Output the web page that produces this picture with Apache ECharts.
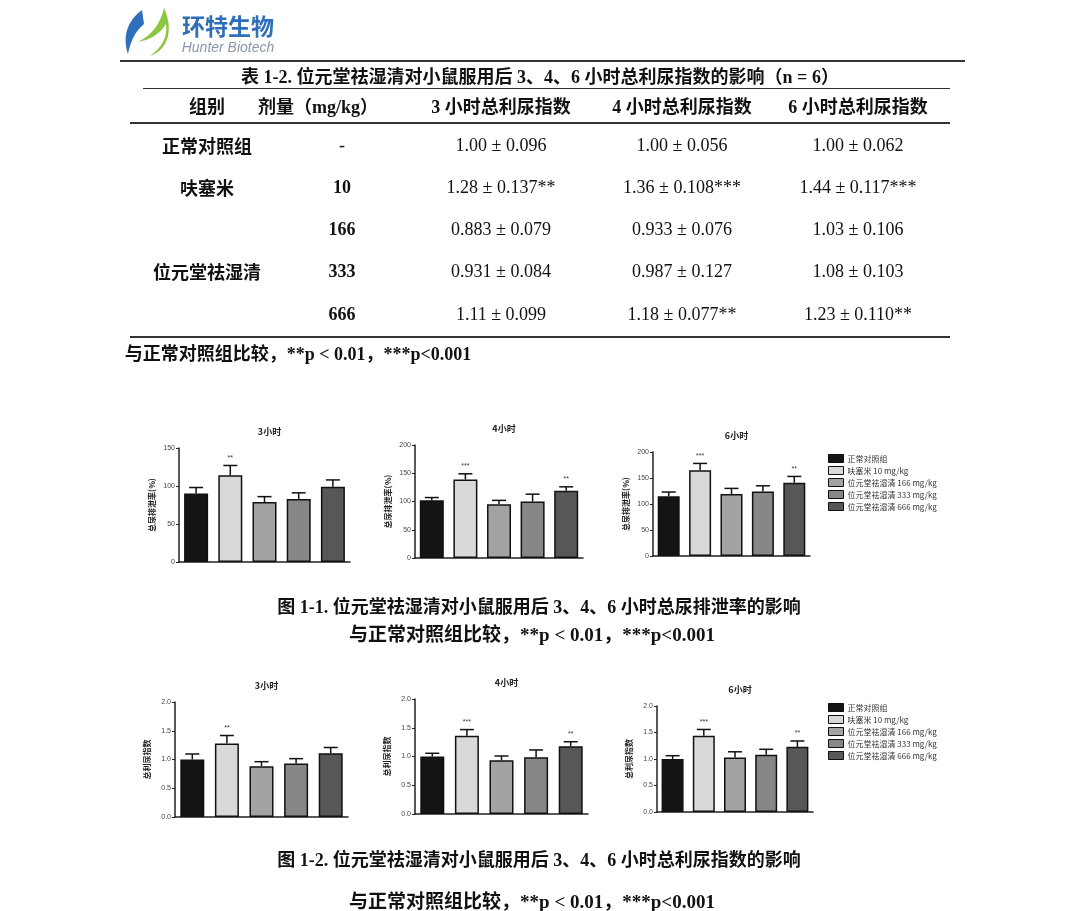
<!DOCTYPE html>
<html>
<head>
<meta charset="utf-8">
<script src="https://cdn.jsdelivr.net/npm/echarts@6/dist/echarts.min.js"></script>
<style>
body { margin: 0; background: #fff; }
#page { position: relative; width: 1080px; height: 911px; overflow: hidden; font-family: "Liberation Serif", "Noto Sans CJK SC", serif; color: #111; }
#main { position: absolute; left: 0; top: 0; width: 1080px; height: 911px; }
.t { position: absolute; transform: translate(-50%, -50%); white-space: nowrap; }
.b { font-weight: bold; }
.rule { position: absolute; background: #333; }
</style>
</head>
<body>
<div id="page">
  <div id="main"></div>
</div>
<script>
// groups and values
var groups = ['正常对照组', '呋塞米 10 mg/kg', '位元堂祛湿清 166 mg/kg', '位元堂祛湿清 333 mg/kg', '位元堂祛湿清 666 mg/kg'];
var tableGroups = ['正常对照组', '呋塞米', '', '位元堂祛湿清', ''];
var doses = ['-', '10', '166', '333', '666'];
var hours = ['3小时', '4小时', '6小时'];

// figure 1-1: total urine excretion rate (%)
var rate3h = [90, 114, 79, 83, 99];
var rateErr3h = [8, 13, 7, 8, 9];
var rate4h = [102, 139, 95, 100, 119];
var rateErr4h = [5, 10, 7, 13, 7];
var rate6h = [115, 165, 119, 124, 141];
var rateErr6h = [8, 13, 11, 11, 12];

// figure 1-2 / table 1-2: total diuretic index
var index3h = [1.00, 1.28, 0.883, 0.931, 1.11];
var indexErr3h = [0.096, 0.137, 0.079, 0.084, 0.099];
var index4h = [1.00, 1.36, 0.933, 0.987, 1.18];
var indexErr4h = [0.056, 0.108, 0.076, 0.127, 0.077];
var index6h = [1.00, 1.44, 1.03, 1.08, 1.23];
var indexErr6h = [0.062, 0.117, 0.106, 0.103, 0.110];

var stars3h = ['', '**', '', '', ''];
var stars4h = ['', '***', '', '', '**'];
var stars6h = ['', '***', '', '', '**'];

var rateTicks = { '3小时': [0, 150, 50], '4小时': [0, 200, 50], '6小时': [0, 200, 50] };
var indexTicks = [0, 2, 0.5];

var barColors = ['#141414', '#d9d9d9', '#a3a3a3', '#878787', '#575757'];

// ---------- page text (table, captions, logo) ----------
var page = document.getElementById('page');
function addText(txt, x, y, size, bold, extra) {
    var d = document.createElement('div');
    d.className = 't' + (bold ? ' b' : '');
    d.style.left = x + 'px';
    d.style.top = y + 'px';
    d.style.fontSize = size + 'px';
    if (extra) d.style.cssText += extra;
    d.textContent = txt;
    page.appendChild(d);
}
function addRule(x, y, w, h) {
    var d = document.createElement('div');
    d.className = 'rule';
    d.style.left = x + 'px'; d.style.top = y + 'px';
    d.style.width = w + 'px'; d.style.height = h + 'px';
    page.appendChild(d);
}

// logo
var logo = document.createElement('div');
logo.style.cssText = 'position:absolute;left:120px;top:6px;width:60px;height:52px;';
logo.innerHTML = '<svg width="60" height="52" viewBox="0 0 60 52">' +
    '<path d="M22 4 C8 14 2 30 8 48 C10 38 14 26 24 18 Z" fill="#2f6fba"/>' +
    '<path d="M44 2 C40 20 30 30 18 36 C30 34 40 28 46 18 C48 30 42 42 30 50 C48 44 54 24 44 2 Z" fill="#8cc63f"/>' +
    '</svg>';
page.appendChild(logo);
addText('环特生物', 228, 25, 23, true, 'color:#2f6fba;font-family:"Noto Sans CJK SC";');
addText('Hunter Biotech', 228, 47, 14, false, 'color:#8a98ab;font-style:italic;font-family:"Liberation Sans";');

addRule(120, 60, 845, 2);
addText('表 1-2. 位元堂祛湿清对小鼠服用后 3、4、6 小时总利尿指数的影响（n = 6）', 540, 75, 18, true);
addRule(143, 88, 807, 1);
var headers = ['组别', '剂量（mg/kg）', '3 小时总利尿指数', '4 小时总利尿指数', '6 小时总利尿指数'];
var colX = [207, 318, 501, 682, 858];
headers.forEach(function (h, i) { addText(h, colX[i], 105, 18, true); });
addRule(130, 122, 820, 2);

function fmt(m, e, s) { return m.toPrecision(3) + ' ± ' + e.toFixed(3) + s; }
var rowY = [145, 187, 229, 271, 314];
for (var r = 0; r < 5; r++) {
    if (tableGroups[r]) addText(tableGroups[r], colX[0], rowY[r], 18, true, 'font-family:"Noto Sans CJK SC";');
    addText(doses[r], 342, rowY[r], 18, r > 0);
    addText(fmt(index3h[r], indexErr3h[r], stars3h[r]), colX[2], rowY[r], 18, false);
    addText(fmt(index4h[r], indexErr4h[r], stars4h[r]), colX[3], rowY[r], 18, false);
    addText(fmt(index6h[r], indexErr6h[r], stars6h[r]), colX[4], rowY[r], 18, false);
}
addRule(130, 336, 820, 2);
addText('与正常对照组比较，**p < 0.01，***p<0.001', 298, 352, 18, true);

addText('图 1-1. 位元堂祛湿清对小鼠服用后 3、4、6 小时总尿排泄率的影响', 539, 605, 18, true);
addText('与正常对照组比较，**p < 0.01，***p<0.001', 532, 632, 19, true);
addText('图 1-2. 位元堂祛湿清对小鼠服用后 3、4、6 小时总利尿指数的影响', 539, 858, 18, true);
addText('与正常对照组比较，**p < 0.01，***p<0.001', 532, 899, 19, true);

// ---------- bar charts ----------
var panels = [
    { mean: rate3h, err: rateErr3h, stars: stars3h, ticks: rateTicks['3小时'], name: '总尿排泄率(%)', title: hours[0], box: [179, 448, 171, 114] },
    { mean: rate4h, err: rateErr4h, stars: stars4h, ticks: rateTicks['4小时'], name: '总尿排泄率(%)', title: hours[1], box: [415, 445, 168, 113] },
    { mean: rate6h, err: rateErr6h, stars: stars6h, ticks: rateTicks['6小时'], name: '总尿排泄率(%)', title: hours[2], box: [653, 452, 157, 104] },
    { mean: index3h, err: indexErr3h, stars: stars3h, ticks: indexTicks, name: '总利尿指数', title: hours[0], box: [175, 702, 173, 115] },
    { mean: index4h, err: indexErr4h, stars: stars4h, ticks: indexTicks, name: '总利尿指数', title: hours[1], box: [415, 699, 173, 115] },
    { mean: index6h, err: indexErr6h, stars: stars6h, ticks: indexTicks, name: '总利尿指数', title: hours[2], box: [657, 706, 156, 106] }
];

var grid = [], xAxis = [], yAxis = [], series = [], title = [];
var cjk = '"Noto Sans CJK SC", sans-serif';
panels.forEach(function (p, k) {
    var b = p.box;
    grid.push({ left: b[0], top: b[1], width: b[2], height: b[3] });
    title.push({
        text: p.title, left: b[0] + b[2] / 2, top: b[1] - 26, textAlign: 'center',
        textStyle: { fontSize: 9, fontWeight: 'bold', color: '#222', fontFamily: cjk }
    });
    xAxis.push({
        type: 'category', gridIndex: k, data: groups,
        axisLine: { lineStyle: { color: '#222', width: 1.5 } },
        axisTick: { show: false }, axisLabel: { show: false }
    });
    var decimals = p.ticks[2] < 1;
    yAxis.push({
        type: 'value', gridIndex: k, min: p.ticks[0], max: p.ticks[1], interval: p.ticks[2],
        name: p.name, nameLocation: 'middle', nameRotate: 90, nameGap: decimals ? 24 : 23,
        nameTextStyle: { fontSize: 8, fontWeight: 'bold', color: '#222', fontFamily: cjk },
        axisLine: { show: true, lineStyle: { color: '#222', width: 1.5 } },
        axisTick: { show: true, length: 3, lineStyle: { color: '#222' } },
        splitLine: { show: false },
        axisLabel: {
            fontSize: 7, color: '#444', margin: 4, fontFamily: 'Liberation Sans',
            formatter: function (v) { return decimals ? v.toFixed(1) : v; }
        }
    });
    groups.forEach(function (g, i) {
        var d = groups.map(function (_, j) { return j === i ? p.mean[j] : '-'; });
        series.push({
            type: 'bar', name: g, xAxisIndex: k, yAxisIndex: k, data: d,
            barWidth: Math.round(b[2] / 5 * 0.7), barGap: '-100%',
            itemStyle: { color: barColors[i], borderColor: '#111', borderWidth: 1.5 },
            silent: true
        });
    });
    series.push({
        type: 'custom', xAxisIndex: k, yAxisIndex: k, silent: true, z: 5,
        data: p.mean.map(function (m, i) { return [i, m, p.err[i]]; }),
        renderItem: function (params, api) {
            var i = api.value(0), m = api.value(1), e = api.value(2);
            var base = api.coord([i, m]);
            var top = api.coord([i, m + e]);
            var w = 7;
            var children = [
                { type: 'line', shape: { x1: base[0], y1: base[1], x2: top[0], y2: top[1] }, style: { stroke: '#111', lineWidth: 1.5 } },
                { type: 'line', shape: { x1: top[0] - w, y1: top[1], x2: top[0] + w, y2: top[1] }, style: { stroke: '#111', lineWidth: 1.5 } }
            ];
            var s = p.stars[i];
            if (s) children.push({
                type: 'text', x: top[0], y: top[1] - 4,
                style: { text: s, fontSize: 7, fill: '#333', align: 'center', verticalAlign: 'bottom', fontFamily: 'Liberation Sans' }
            });
            return { type: 'group', children: children };
        }
    });
});

function legendAt(top) {
    return {
        left: 823, top: top, orient: 'vertical', itemGap: 3, itemWidth: 15, itemHeight: 8,
        icon: 'rect', selectedMode: false, data: groups,
        itemStyle: { borderColor: '#111', borderWidth: 1 },
        textStyle: { fontSize: 8, color: '#333', fontFamily: cjk, padding: [0, 0, 0, -1] }
    };
}

var chart = echarts.init(document.getElementById('main'));
chart.setOption({
    animation: false,
    title: title,
    legend: [legendAt(449), legendAt(698)],
    grid: grid,
    xAxis: xAxis,
    yAxis: yAxis,
    series: series
});
</script>
</body>
</html>
